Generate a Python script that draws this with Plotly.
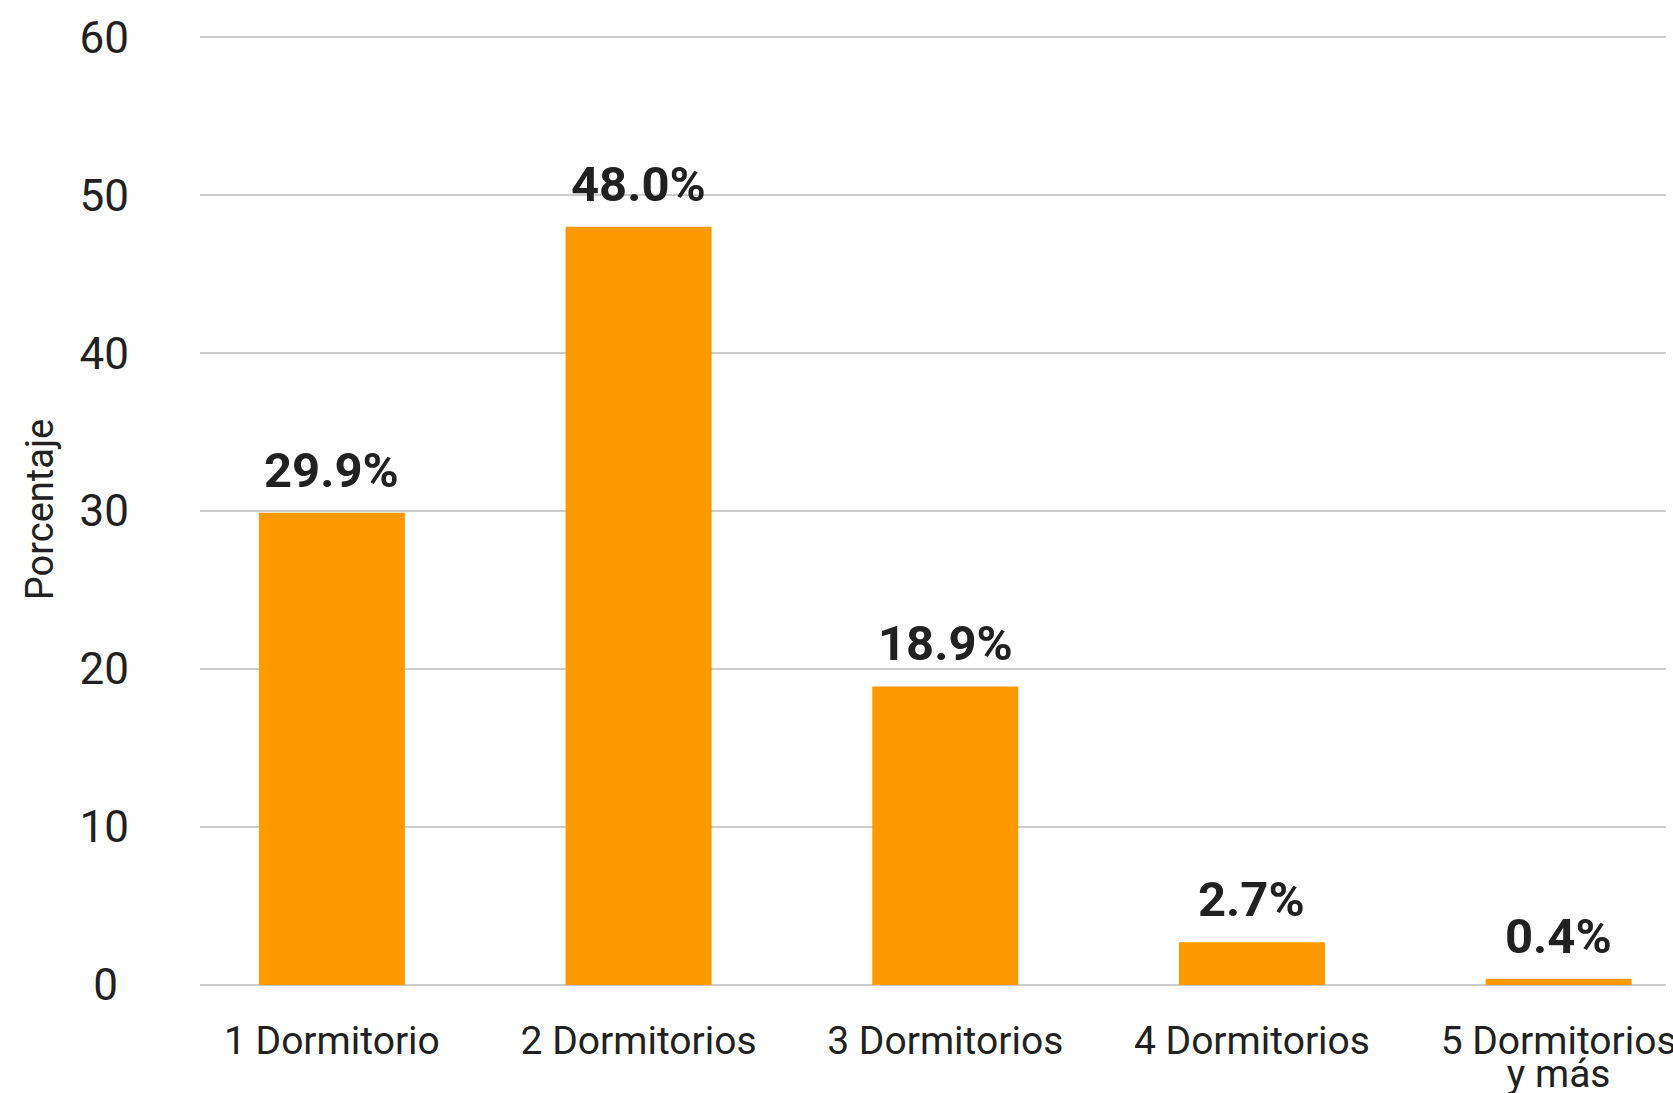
import plotly.graph_objects as go

categories = ["1 Dormitorio", "2 Dormitorios", "3 Dormitorios", "4 Dormitorios",
              "5 Dormitorios<br><span style='baseline-shift:18px'>y más</span>"]
values = [29.9, 48.0, 18.9, 2.7, 0.4]
y_tickvals = [0, 10, 20, 30, 40, 50, 60]
y_ticktext = ["0\u00a0", "10", "20", "30", "40", "50", "60"]
y_title = "Porcentaje"

BAR = "#FF9900"
TXT = "#212121"
GRID = "#cccccc"

fig = go.Figure()
fig.add_trace(go.Bar(
    x=list(range(len(categories))),
    y=values,
    marker=dict(color=BAR, line=dict(width=0)),
    width=0.476,
    hoverinfo="skip",
))

for i, v in enumerate(values):
    fig.add_annotation(
        x=i, y=v, xref="x", yref="y",
        text=f"<b>{v:.1f}%</b>",
        showarrow=False, yanchor="bottom", xanchor="center",
        yshift=12,
        font=dict(family="Roboto", size=49, color=TXT, weight=900),
    )

fig.update_layout(
    width=1673, height=1093,
    margin=dict(l=200, r=7, t=34, b=108, autoexpand=False),
    plot_bgcolor="white", paper_bgcolor="white",
    showlegend=False,
    font=dict(family="Roboto", color=TXT),
    bargap=0.5,
)
fig.update_xaxes(
    tickmode="array",
    tickvals=list(range(len(categories))),
    ticktext=categories,
    range=[-0.43, 4.35],
    showgrid=False, zeroline=False, showline=False,
    tickfont=dict(family="Roboto", size=39, color=TXT),
    ticks="", ticklabelstandoff=29,
    ticklabeloverflow="allow",
    automargin=False,
)
fig.update_yaxes(
    range=[0, 60.2],
    tickmode="array", tickvals=y_tickvals, ticktext=y_ticktext,
    showgrid=True, gridcolor=GRID, gridwidth=2,
    zeroline=True, zerolinecolor=GRID, zerolinewidth=2,
    showline=False, ticks="",
    tickfont=dict(family="Roboto", size=44, color=TXT),
    ticklabelstandoff=70,
    title=dict(text=y_title, font=dict(family="Roboto", size=38, color=TXT), standoff=14),
    automargin=False,
)

fig.write_html(
    "out.html",
    config={"displayModeBar": False},
    post_script="document.body.style.margin='0';document.body.style.overflow='hidden';",
)
